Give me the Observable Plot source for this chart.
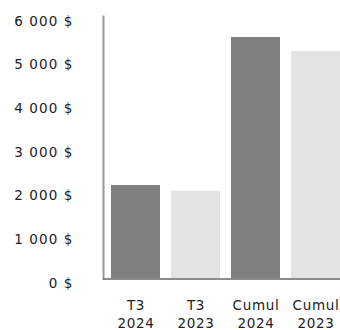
<!DOCTYPE html>
<html>
<head>
<meta charset="utf-8">
<script src="https://cdn.jsdelivr.net/npm/d3@7"></script>
<script src="https://cdn.jsdelivr.net/npm/@observablehq/plot@0.6"></script>
<style>
  html, body { margin: 0; padding: 0; background: #fff; overflow: hidden; }
  #chart svg { display: block; }
  #chart g[aria-label="y-axis tick label"] { letter-spacing: 1.1px; }
  #chart g[aria-label="x-axis tick label"] { letter-spacing: 0.7px; }
</style>
</head>
<body>
<div id="chart"></div>
<script>
// Revenus par période (en dollars)
const periods = ["T3 2024", "T3 2023", "Cumul 2024", "Cumul 2023"];
const years = ["2024", "2023", "2024", "2023"];
const values = [2130, 2000, 5520, 5200];
const yTicks = [0, 1000, 2000, 3000, 4000, 5000, 6000];

const rows = periods.map((p, i) => ({period: p, year: years[i], value: values[i]}));

const fr = d3.formatLocale({decimal: ",", thousands: " ", grouping: [3], currency: ["", " $"]});
const money = v => fr.format(",d")(v) + " $";

const chart = Plot.plot({
  width: 340,
  height: 330,
  marginTop: 16,
  marginBottom: 52,
  marginLeft: 103,
  marginRight: 0,
  style: {fontFamily: "'DejaVu Sans', sans-serif", fontSize: "13.5px", color: "#222", background: "#fff"},
  x: {domain: periods, range: [104, 348], paddingInner: 0.176, paddingOuter: 0.1},
  y: {domain: [0, 6000]},
  color: {domain: ["2024", "2023"], range: ["#808080", "#e3e3e3"]},
  marks: [
    Plot.barY(rows, {x: "period", y: "value", fill: "year"}),
    Plot.frame({anchor: "left", stroke: "#9a9a9a", strokeWidth: 2}),
    Plot.ruleY([0], {stroke: "#666", strokeWidth: 1.5, dy: 0.5}),
    Plot.axisY({ticks: yTicks, tickFormat: money, tickSize: 0, tickPadding: 30, dy: 5, label: null, fill: "#222", fontSize: 13.5}),
    Plot.axisX({tickSize: 0, tickPadding: 19, tickFormat: d => d.replace(" ", "\n"), label: null, fill: "#222", fontSize: 13.5, lineHeight: 1.3})
  ]
});
document.getElementById("chart").appendChild(chart);
</script>
</body>
</html>
